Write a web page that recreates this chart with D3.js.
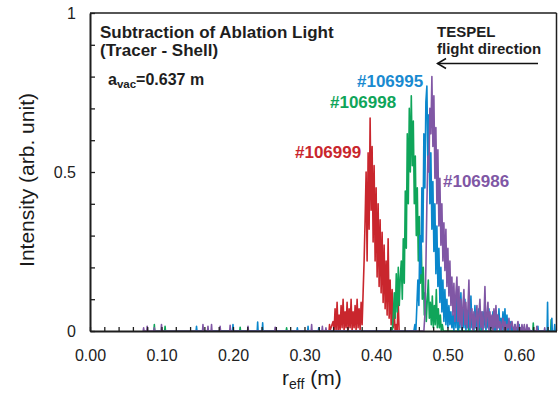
<!DOCTYPE html>
<html><head><meta charset="utf-8">
<script src="https://cdn.jsdelivr.net/npm/d3@7"></script>
<style>
html,body{margin:0;padding:0;background:#fff;}
svg{display:block;font-family:"Liberation Sans",Arial,sans-serif;}
</style></head><body>
<svg id="chart" width="558" height="394"></svg>
<script>
// ---------- data ----------
const xTickValues = [0,0.02,0.04,0.06,0.08,0.10,0.12,0.14,0.16,0.18,0.20,0.22,0.24,0.26,0.28,0.30,0.32,0.34,0.36,0.38,0.40,0.42,0.44,0.46,0.48,0.50,0.52,0.54,0.56,0.58,0.60,0.62,0.64];
const xTickLabels = ["0.00","0.10","0.20","0.30","0.40","0.50","0.60"];
const yTickValues = [0,0.1,0.2,0.3,0.4,0.5,0.6,0.7,0.8,0.9,1];
const yTickLabels = ["0","0.5","1"];
const shots = ["#106999","#106998","#106995","#106986"];
const sampleStep = 0.0014; // r_eff spacing of the sampled traces

// #106999 (red)
const redStart = 0.340;
const redTrace = [0.03,0.00,0.07,0.00,0.09,0.00,0.05,0.00,0.08,0.01,0.10,0.00,0.06,0.01,0.09,0.00,0.07,0.01,0.10,0.00,0.06,0.01,0.08,0.00,0.10,0.01,0.07,0.00,0.09,0.02,
  0.12,0.22,0.35,0.50,0.22,0.56,0.32,0.67,0.38,0.58,0.28,0.52,0.22,0.45,0.17,0.40,0.14,0.35,0.12,0.31,0.09,0.27,0.07,0.22,0.05,0.29,0.04,0.16,0.02,0.13,0.01,0.07,0.00,0.02,0.00,0.10,0.00,0.00];
const redSpikes = [[0.335,0.02]];

// #106998 (green)
const greenStart = 0.420;
const greenTrace = [0.00,0.01,0.00,0.05,0.12,0.04,0.18,0.06,0.20,0.08,0.17,0.22,0.10,0.29,0.15,0.44,0.26,0.62,0.40,0.70,0.50,0.74,0.52,0.66,0.40,0.55,0.30,0.45,0.22,0.36,0.15,0.27,0.10,0.20,0.05,0.12,0.03,0.10,0.16,0.04,0.09,0.02,0.11,0.01,0.08,0.02,0.13,0.01,0.07,0.01,0.05,0.00,0.02,0.00];
const greenSpikes = [[0.090,0.02],[0.105,0.015],[0.210,0.012],[0.275,0.01],[0.515,0.08],[0.530,0.06],[0.545,0.07],[0.600,0.02],[0.620,0.025],[0.645,0.035]];

// #106995 (blue)
const blueStart = 0.453;
const blueTrace = [0.00,0.02,0.00,0.08,0.16,0.08,0.30,0.18,0.45,0.28,0.62,0.45,0.72,0.77,0.52,0.68,0.40,0.56,0.32,0.47,0.25,0.40,0.18,0.33,0.14,0.26,0.09,0.20,0.06,0.16,0.03,0.13,0.02,0.10,0.01,0.08,0.02,0.06,0.01,0.05,
  0.00,0.09,0.01,0.11,0.00,0.08,0.01,0.12,0.00,0.07,0.01,0.10,0.00,0.06,0.01,0.09,0.00,0.11,0.01,0.05,0.00,0.08,0.01,0.06,0.00,0.07,0.01,0.04,0.00,0.06,0.01,0.08,0.00,0.05,0.01,0.07,0.00,0.04,0.01,0.06,0.00,0.03,0.00,0.05,0.01,0.07,0.00,0.04,0.00,0.06,0.01,0.07,0.00,0.05,0.00,0.02,0.01,0.03,0.00,0.01,0.00,0.02,0.00,0.01,0.00,0.02,0.00,0.01,0.00,0.00,0.01,0.00];
const blueSpikes = [[0.149,0.015],[0.200,0.02],[0.2345,0.028],[0.2415,0.026],[0.290,0.01],[0.305,0.015],[0.320,0.01],[0.6265,0.015],[0.640,0.09],[0.646,0.04],[0.650,0.02]];

// #106986 (purple)
const purpleStart = 0.467;
const purpleTrace = [0.00,0.05,0.20,0.40,0.55,0.50,0.70,0.62,0.80,0.58,0.74,0.48,0.64,0.40,0.57,0.33,0.48,0.27,0.40,0.22,0.34,0.19,0.32,0.14,0.26,0.11,0.22,0.08,0.17,0.05,0.15,0.03,0.12,0.17,0.03,0.14,0.02,0.10,0.01,0.08,0.13,0.02,0.09,0.01,0.07,0.16,0.01,
  0.05,0.07,0.00,0.06,0.01,0.04,0.08,0.00,0.05,0.10,0.01,0.06,0.00,0.04,0.14,0.01,0.05,0.09,0.00,0.06,0.01,0.05,0.00,0.07,0.01,0.08,0.00,0.05,0.01,0.03,0.00,0.02,0.04,0.00,0.03,0.00,0.02,0.01,0.04,0.00,0.02,0.03,0.01,0.00,0.02,0.00,0.01,0.03,0.00,0.01,0.00,0.02,0.00,0.01,0.00,0.00,0.02,0.00,0.01,0.00];
const purpleSpikes = [[0.075,0.01],[0.080,0.015],[0.090,0.01],[0.100,0.02],[0.158,0.02],[0.165,0.015],[0.170,0.02],[0.182,0.015],[0.196,0.018],[0.221,0.015],[0.259,0.012],[0.310,0.02],[0.325,0.015],[0.330,0.01],[0.6075,0.02],[0.625,0.015],[0.636,0.01]];

// ---------- build ----------
const svg = d3.select("#chart");
const x = d3.scaleLinear().domain([0, 0.6525]).range([90, 556.5]);
const y = d3.scaleLinear().domain([0, 1]).range([331, 13]);

function buildSeries(start, trace, spikes){
  const pts = trace.map((v,i)=>[start + i*sampleStep, v]);
  const d = 0.0006;
  spikes.forEach(([r,v])=>{ pts.push([r-d,0],[r,v],[r+d,0]); });
  pts.sort((a,b)=>a[0]-b[0]);
  return pts;
}
const series = [
  {name:shots[0], color:"#c9262d", pts:buildSeries(redStart, redTrace, redSpikes)},
  {name:shots[1], color:"#0fa55a", pts:buildSeries(greenStart, greenTrace, greenSpikes)},
  {name:shots[2], color:"#0a87cc", pts:buildSeries(blueStart, blueTrace, blueSpikes)},
  {name:shots[3], color:"#8057a5", pts:buildSeries(purpleStart, purpleTrace, purpleSpikes)}
];
const line = d3.line().x(d=>x(d[0])).y(d=>y(d[1]));
svg.append("g").selectAll("path").data(series).join("path")
  .attr("d", d=>line(d.pts)).attr("fill","none")
  .attr("stroke", d=>d.color).attr("stroke-width",1.6).attr("stroke-linejoin","round");

// frame
const axisColor = "#1e1e1e";
svg.append("line").attr("x1",x(0)).attr("x2",x(0.6525)).attr("y1",y(1)).attr("y2",y(1)).attr("stroke",axisColor).attr("stroke-width",1.5);
svg.append("line").attr("x1",x(0.6525)).attr("x2",x(0.6525)).attr("y1",y(1)).attr("y2",y(0)).attr("stroke",axisColor).attr("stroke-width",1.5);

// axes
const yAxis = d3.axisLeft(y).tickValues(yTickValues).tickSizeInner(-5).tickSizeOuter(0).tickPadding(14)
  .tickFormat(d=>{ const s = d3.format("")(+d.toFixed(1)); return yTickLabels.includes(s)?s:""; });
const gy = svg.append("g").attr("transform",`translate(${x(0)},0)`).call(yAxis);
const xAxis = d3.axisBottom(x).tickValues(xTickValues).tickSizeInner(-4).tickSizeOuter(0).tickPadding(19)
  .tickFormat(d=>{ const s = d3.format(".2f")(d); return xTickLabels.includes(s)?s:""; });
const gx = svg.append("g").attr("transform",`translate(0,${y(0)})`).call(xAxis);
[gx,gy].forEach(g=>{
  g.select(".domain").attr("stroke",axisColor).attr("stroke-width",2);
  g.selectAll(".tick line").attr("stroke",axisColor).attr("stroke-width",1.3);
  g.selectAll(".tick text").attr("fill","#222").attr("font-size",16).attr("font-family","Liberation Sans, Arial, sans-serif");
});

// axis titles
svg.append("text").attr("transform","translate(33.5,180) rotate(-90)").attr("text-anchor","middle")
  .attr("font-size",21).attr("fill","#1a1a1a").text("Intensity (arb. unit)");
const xt = svg.append("text").attr("x",282).attr("y",385).attr("font-size",21).attr("fill","#1a1a1a");
xt.append("tspan").text("r");
xt.append("tspan").attr("font-size",14).attr("dy",4).text("eff");
xt.append("tspan").attr("dy",-4).text(" (m)");

// annotations
const ann = svg.append("g").attr("font-weight","bold").attr("fill","#1e1e1e");
ann.append("text").attr("x",100).attr("y",38).attr("font-size",17).text("Subtraction of Ablation Light");
ann.append("text").attr("x",100).attr("y",55.5).attr("font-size",17).text("(Tracer - Shell)");
const av = ann.append("text").attr("x",108).attr("y",85).attr("font-size",16);
av.append("tspan").text("a");
av.append("tspan").attr("font-size",11.5).attr("dy",3).text("vac");
av.append("tspan").attr("dy",-3).text("=0.637 m");
ann.append("text").attr("x",437).attr("y",37).attr("font-size",15).text("TESPEL");
ann.append("text").attr("x",437).attr("y",53.5).attr("font-size",15).text("flight direction");
svg.append("line").attr("x1",538).attr("x2",437.5).attr("y1",63.5).attr("y2",63.5).attr("stroke","#111").attr("stroke-width",1.5);
svg.append("path").attr("d","M446,58.5 L437.5,63.5 L446,68.5").attr("fill","none").attr("stroke","#111").attr("stroke-width",1.5);

// series labels
const labelPos = [
  {name:shots[0], color:"#c9262d", x:295, y:158},
  {name:shots[1], color:"#0fa55a", x:330, y:108},
  {name:shots[2], color:"#1a8ad0", x:357, y:86.5},
  {name:shots[3], color:"#8057a5", x:443, y:186.5}
];
svg.append("g").selectAll("text").data(labelPos).join("text")
  .attr("x",d=>d.x).attr("y",d=>d.y).attr("fill",d=>d.color)
  .attr("font-size",17).attr("font-weight","bold").text(d=>d.name);
</script>
</body></html>
